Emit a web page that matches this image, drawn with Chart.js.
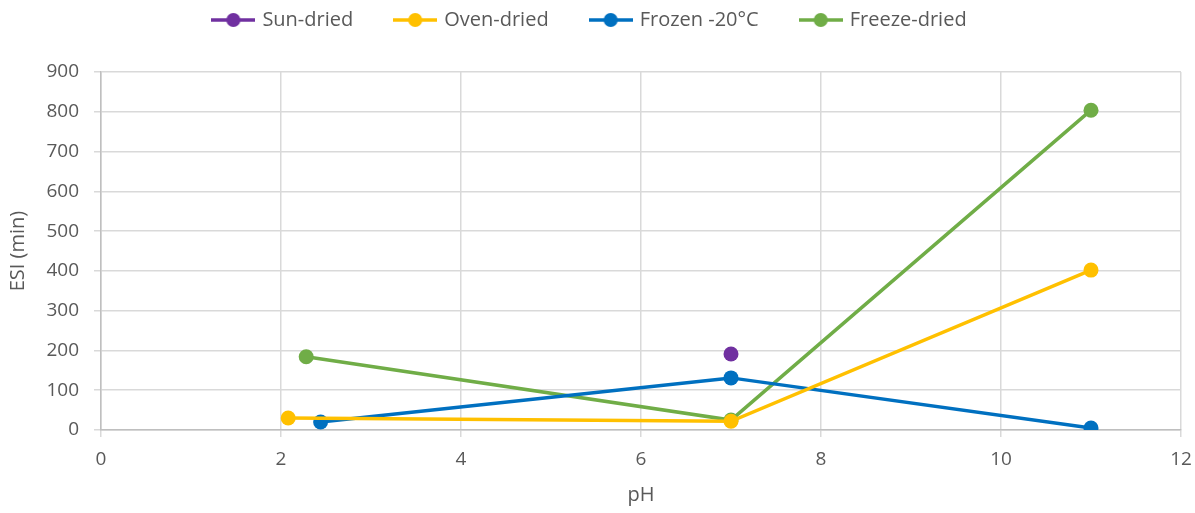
<!DOCTYPE html>
<html lang="en">
<head>
    <meta charset="UTF-8">
    <title>ESI vs pH</title>
    <script src="https://cdn.jsdelivr.net/npm/chart.js"></script>
    <style>
        html, body { margin: 0; padding: 0; background: #ffffff; }
        #wrap { position: relative; width: 1195px; height: 513px; }
    </style>
</head>
<body>
    <div id="wrap">
        <canvas id="chartEsi"></canvas>
    </div>

    <script>
        // series names and colours
        const seriesNames = ['Sun-dried', 'Oven-dried', 'Frozen -20°C', 'Freeze-dried'];
        const seriesColors = ['#7030a0', '#ffc000', '#0070c0', '#70ad47'];

        // pH values (x) and ESI values (y)
        const sunPh = [7.0];
        const sunEsi = [191];
        const ovenPh = [2.08, 7.0, 11.0];
        const ovenEsi = [30, 22, 402];
        const frozenPh = [2.44, 7.0, 11.0];
        const frozenEsi = [20, 131, 5];
        const freezePh = [2.28, 7.0, 11.0];
        const freezeEsi = [184, 25, 804];

        const xTicks = [0, 2, 4, 6, 8, 10, 12];
        const yTicks = [0, 100, 200, 300, 400, 500, 600, 700, 800, 900];

        const allPh = [sunPh, ovenPh, frozenPh, freezePh];
        const allEsi = [sunEsi, ovenEsi, frozenEsi, freezeEsi];

        const fontFamily = "'Open Sans', 'Noto Sans', sans-serif";
        const textColor = '#595959';

        // legend symbol: short line with a dot in the middle
        function legendSymbol(color) {
            const c = document.createElement('canvas');
            c.width = 44; c.height = 16;
            const g = c.getContext('2d');
            g.strokeStyle = color;
            g.lineWidth = 3.5;
            g.beginPath();
            g.moveTo(0, 8); g.lineTo(44, 8);
            g.stroke();
            g.fillStyle = color;
            g.beginPath();
            g.arc(22, 8, 7, 0, Math.PI * 2);
            g.fill();
            return c;
        }

        // legend gets a fixed 72px band at the top, items drawn higher up in it
        const legendPlacer = {
            id: 'legendPlacer',
            beforeInit(chart) {
                const fit = chart.legend.fit;
                chart.legend.fit = function () { fit.call(this); this.height = 72; };
            },
            afterLayout(chart) {
                chart.legend.top -= 33;
            }
        };

        const datasets = seriesNames.map((name, i) => ({
            label: name,
            data: allPh[i].map((x, j) => ({ x: x, y: allEsi[i][j] })),
            borderColor: seriesColors[i],
            backgroundColor: seriesColors[i],
            borderWidth: 3.5,
            pointRadius: 7.5,
            pointHoverRadius: 7.5,
            pointBorderWidth: 0,
            showLine: true,
            tension: 0
        }));

        const ctx = document.getElementById('chartEsi').getContext('2d');
        new Chart(ctx, {
            type: 'scatter',
            data: { datasets: datasets },
            plugins: [legendPlacer],
            options: {
                responsive: true,
                maintainAspectRatio: false,
                animation: false,
                layout: { padding: { left: 0, right: 14, top: 0, bottom: 0 } },
                plugins: {
                    tooltip: { enabled: false },
                    legend: {
                        position: 'top',
                        labels: {
                            usePointStyle: true,
                            pointStyleWidth: 38,
                            color: textColor,
                            font: { family: fontFamily, size: 20 },
                            padding: 43,
                            generateLabels: chart => chart.data.datasets.map((ds, i) => ({
                                text: ds.label,
                                fillStyle: ds.borderColor,
                                strokeStyle: ds.borderColor,
                                fontColor: textColor,
                                pointStyle: legendSymbol(ds.borderColor),
                                datasetIndex: i,
                                hidden: false
                            }))
                        }
                    }
                },
                scales: {
                    x: {
                        type: 'linear',
                        min: 0,
                        max: 12,
                        afterBuildTicks: axis => { axis.ticks = xTicks.map(v => ({ value: v })); },
                        afterFit: axis => { axis.height = 83; axis.paddingRight = 0; axis.paddingLeft = 0; },
                        grid: { color: '#d9d9d9', lineWidth: 1.5, tickLength: 7 },
                        border: { color: '#bfbfbf', width: 1.5 },
                        ticks: { color: textColor, font: { family: fontFamily, size: 19 }, padding: 11 },
                        title: { display: true, text: 'pH', color: textColor, font: { family: fontFamily, size: 20 }, padding: { top: 0, bottom: 6 } }
                    },
                    y: {
                        min: 0,
                        max: 900,
                        afterBuildTicks: axis => { axis.ticks = yTicks.map(v => ({ value: v })); },
                        afterFit: axis => { axis.width = 101; },
                        grid: { color: '#d9d9d9', lineWidth: 1.5, tickLength: 7 },
                        border: { color: '#bfbfbf', width: 1.5 },
                        ticks: { color: textColor, font: { family: fontFamily, size: 19 }, padding: 15 },
                        title: { display: true, text: 'ESI (min)', color: textColor, font: { family: fontFamily, size: 20 }, padding: { top: 6, bottom: 0 } }
                    }
                }
            }
        });
    </script>
</body>
</html>
